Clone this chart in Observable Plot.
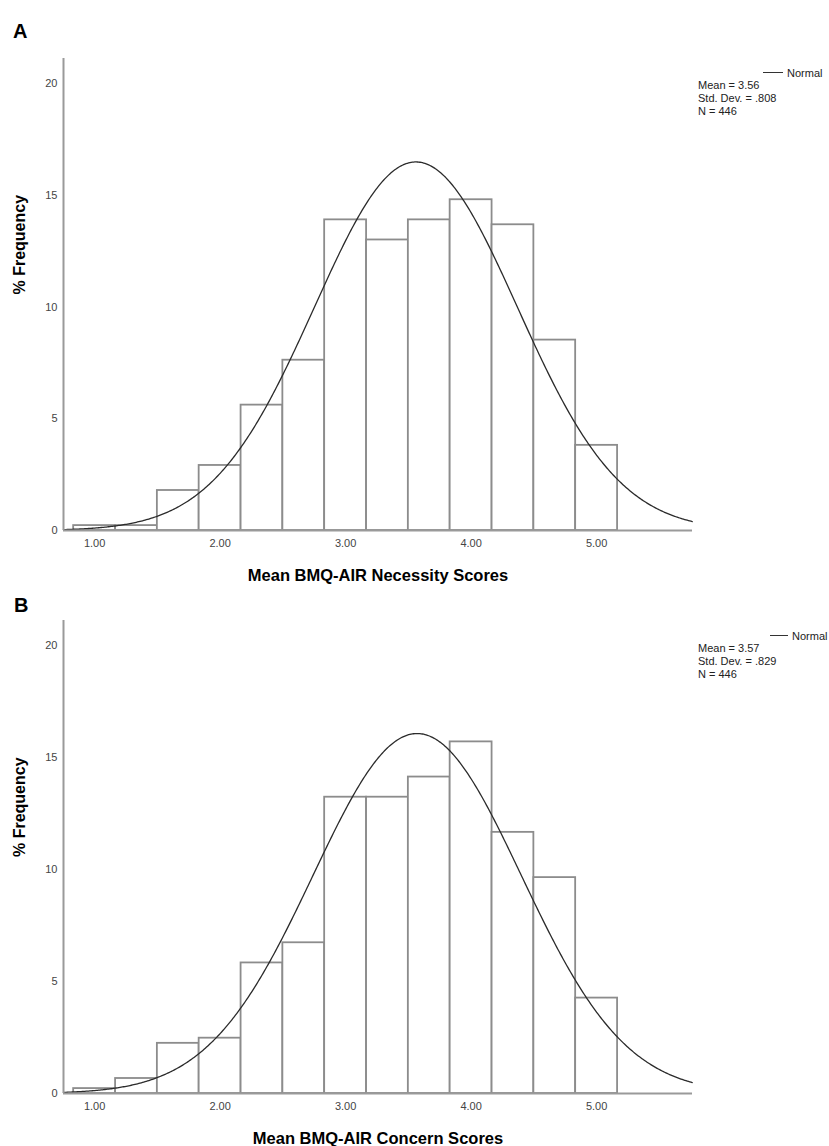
<!DOCTYPE html>
<html>
<head>
<meta charset="utf-8">
<script src="https://cdn.jsdelivr.net/npm/d3@7"></script>
<script src="https://cdn.jsdelivr.net/npm/@observablehq/plot@0.6"></script>
<style>
  body { margin: 0; background: #fff; font-family: "Liberation Sans", Arial, sans-serif; }
  #wrap { position: relative; width: 829px; height: 1146px; overflow: hidden; background: #fff; }
  .panel { position: absolute; left: 0; }
  .tag { position: absolute; font-weight: bold; font-size: 20px; color: #000; line-height: 20px; }
  .stats { position: absolute; font-size: 11px; line-height: 13px; color: #222; white-space: nowrap; }
  .legline { position: absolute; height: 0; border-top: 1.3px solid #333; }
  .legtext { position: absolute; font-size: 11px; line-height: 13px; color: #222; white-space: nowrap; }
</style>
</head>
<body>
<div id="wrap"></div>
<script>
// ---- data ----
const binEdges = [0.833, 1.167, 1.5, 1.833, 2.167, 2.5, 2.833, 3.167, 3.5, 3.833, 4.167, 4.5, 4.833, 5.167];
const necessityPct = [0.22, 0.22, 1.79, 2.91, 5.61, 7.62, 13.90, 13.00, 13.90, 14.80, 13.68, 8.52, 3.81];
const concernPct   = [0.22, 0.67, 2.24, 2.47, 5.83, 6.73, 13.23, 13.23, 14.13, 15.70, 11.66, 9.64, 4.26];
const necessityMean = 3.56, necessitySD = 0.808, necessityN = 446;
const concernMean = 3.57, concernSD = 0.829, concernN = 446;
const xTicks = [1, 2, 3, 4, 5];
const yTicks = [0, 5, 10, 15, 20];
const xDomain = [0.752, 5.764];
const yDomain = [0, 21.12];
const titles = ["Mean BMQ-AIR Necessity Scores", "Mean BMQ-AIR Concern Scores"];
const yLabel = "% Frequency";

function bins(pct) {
  return pct.map((p, i) => ({x1: binEdges[i], x2: binEdges[i + 1], y0: 0, pct: p}));
}
function normalCurve(mean, sd) {
  const w = binEdges[1] - binEdges[0];
  return d3.range(xDomain[0], xDomain[1] + 1e-9, 0.01).map(x => {
    const z = (x - mean) / sd;
    return {x, y: 100 * w * Math.exp(-0.5 * z * z) / (sd * Math.sqrt(2 * Math.PI))};
  });
}

function panel(pct, mean, sd, title, height, mt, mb) {
  return Plot.plot({
    width: 829, height, marginTop: mt, marginBottom: mb, marginLeft: 63, marginRight: 137,
    style: {fontFamily: "Liberation Sans, Arial, sans-serif", fontSize: "11px", color: "#444", background: "#fff", overflow: "visible"},
    x: {domain: xDomain, ticks: xTicks, tickFormat: d3.format(".2f"), tickSize: 0, tickPadding: 9, label: null},
    y: {domain: yDomain, ticks: yTicks, tickSize: 0, tickPadding: 6, label: null},
    marks: [
      Plot.rect(bins(pct), {x1: "x1", x2: "x2", y1: "y0", y2: "pct", fill: "white", stroke: "#8c8c8c", strokeWidth: 1.8}),
      Plot.line(normalCurve(mean, sd), {x: "x", y: "y", stroke: "#2b2b2b", strokeWidth: 1.3}),
      Plot.ruleX([xDomain[0]], {stroke: "#9a9a9a", strokeWidth: 2}),
      Plot.ruleY([0], {stroke: "#9a9a9a", strokeWidth: 2}),
      Plot.text([title], {frameAnchor: "bottom", dy: 45, fontWeight: "bold", fontSize: 16.5, fill: "#000", lineAnchor: "middle"}),
      Plot.text([yLabel], {frameAnchor: "left", dx: -44, rotate: -90, fontWeight: "bold", fontSize: 16, fill: "#000", lineAnchor: "middle"})
    ]
  });
}

const wrap = document.getElementById("wrap");
function place(el, top) { el.classList.add("panel"); el.style.top = top + "px"; wrap.appendChild(el); }
place(panel(necessityPct, necessityMean, necessitySD, titles[0], 590, 58, 60), 0);
place(panel(concernPct, concernMean, concernSD, titles[1], 556, 30, 53), 590);

function div(cls, left, top, html, width) {
  const d = document.createElement("div");
  d.className = cls; d.style.left = left + "px"; d.style.top = top + "px";
  if (width != null) d.style.width = width + "px";
  d.innerHTML = html; wrap.appendChild(d);
}
const f3 = d3.format(".3f");
const sdText = v => f3(v).replace(/^0/, "");
div("tag", 13, 21, "A");
div("tag", 14, 595, "B");
div("legline", 763, 72, "", 20);
div("legtext", 787, 67, "Normal");
div("stats", 698, 79, `Mean = ${necessityMean.toFixed(2)}<br>Std. Dev. = ${sdText(necessitySD)}<br>N = ${necessityN}`);
div("legline", 770, 635, "", 18);
div("legtext", 792, 630, "Normal");
div("stats", 698, 642, `Mean = ${concernMean.toFixed(2)}<br>Std. Dev. = ${sdText(concernSD)}<br>N = ${concernN}`);
</script>
</body>
</html>
